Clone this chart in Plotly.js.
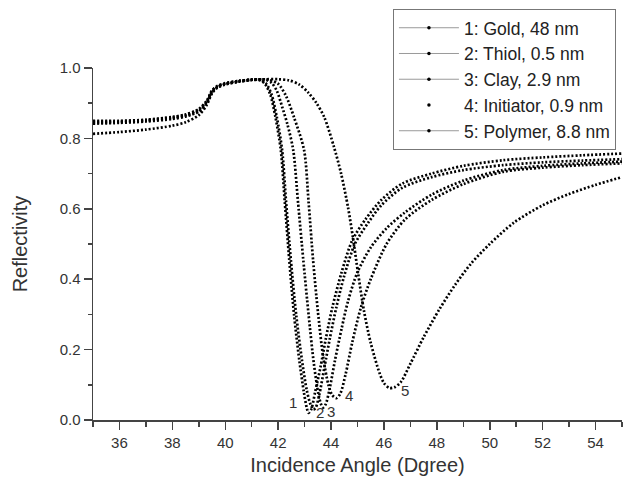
<!DOCTYPE html>
<html>
<head>
<meta charset="utf-8">
<script src="https://cdn.plot.ly/plotly-3.0.1.min.js"></script>
<style>html,body{margin:0;padding:0;background:#fff;}#chart{width:629px;height:479px;}</style>
</head>
<body>
<div id="chart"></div>
<script>
// ---- data ----
const seriesNames = ["1: Gold, 48 nm", "2: Thiol, 0.5 nm", "3: Clay, 2.9 nm", "4: Initiator, 0.9 nm", "5: Polymer, 8.8 nm"];

const x1 = [35, 36, 37, 38, 38.5, 39, 39.3, 39.5, 39.7, 40, 40.5, 41, 41.3, 41.5, 41.7, 41.9, 42.1, 42.25, 42.42, 42.6, 42.8, 42.97, 43.08, 43.15, 43.25, 43.4, 43.6, 43.8, 44.05, 44.4, 44.8, 45.3, 45.9, 46.7, 47.8, 49, 50.5, 52, 53.5, 55];
const y1 = [0.848, 0.848, 0.852, 0.860, 0.867, 0.882, 0.905, 0.935, 0.948, 0.956, 0.963, 0.967, 0.966, 0.955, 0.925, 0.86, 0.767, 0.62, 0.455, 0.30, 0.17, 0.08, 0.035, 0.02, 0.03, 0.08, 0.15, 0.23, 0.32, 0.42, 0.51, 0.57, 0.625, 0.672, 0.70, 0.722, 0.738, 0.746, 0.752, 0.757];

const x2 = [35, 36, 37, 38, 38.5, 39, 39.3, 39.5, 39.7, 40, 40.5, 41, 41.35, 41.55, 41.75, 41.95, 42.15, 42.3, 42.48, 42.68, 42.9, 43.08, 43.22, 43.33, 43.42, 43.55, 43.75, 43.95, 44.2, 44.5, 44.9, 45.4, 45.9, 46.7, 47.8, 49, 50.5, 52, 53.5, 55];
const y2 = [0.813, 0.818, 0.825, 0.836, 0.846, 0.866, 0.895, 0.928, 0.944, 0.953, 0.961, 0.966, 0.965, 0.955, 0.925, 0.86, 0.767, 0.62, 0.455, 0.30, 0.17, 0.085, 0.045, 0.03, 0.035, 0.07, 0.15, 0.23, 0.32, 0.41, 0.50, 0.56, 0.61, 0.66, 0.69, 0.71, 0.724, 0.732, 0.737, 0.741];

const x3 = [35, 36, 37, 38, 38.5, 39, 39.3, 39.5, 39.7, 40, 40.5, 41, 41.5, 41.75, 41.95, 42.15, 42.35, 42.57, 42.75, 42.95, 43.15, 43.35, 43.52, 43.62, 43.7, 43.8, 43.95, 44.15, 44.4, 44.65, 45.0, 45.5, 46.1, 46.8, 47.8, 49, 50.5, 52, 53.5, 55];
const y3 = [0.844, 0.846, 0.850, 0.857, 0.864, 0.878, 0.902, 0.932, 0.946, 0.955, 0.962, 0.967, 0.967, 0.958, 0.935, 0.89, 0.84, 0.767, 0.62, 0.455, 0.30, 0.16, 0.075, 0.045, 0.035, 0.045, 0.09, 0.17, 0.26, 0.34, 0.42, 0.49, 0.545, 0.59, 0.64, 0.68, 0.71, 0.722, 0.729, 0.734];

const x4 = [35, 36, 37, 38, 38.5, 39, 39.3, 39.5, 39.7, 40, 40.5, 41, 41.6, 42.0, 42.3, 42.6, 42.98, 43.15, 43.32, 43.5, 43.7, 43.9, 44.05, 44.2, 44.35, 44.55, 44.8, 45.13, 45.5, 46.1, 46.8, 47.8, 49, 50.5, 52, 53.5, 55];
const y4 = [0.842, 0.844, 0.848, 0.855, 0.862, 0.876, 0.900, 0.930, 0.945, 0.954, 0.961, 0.966, 0.967, 0.955, 0.92, 0.86, 0.767, 0.62, 0.455, 0.31, 0.18, 0.10, 0.07, 0.062, 0.075, 0.13, 0.22, 0.32, 0.40, 0.50, 0.57, 0.625, 0.67, 0.705, 0.717, 0.724, 0.729];

const x5 = [35, 36, 37, 38, 38.5, 39, 39.3, 39.5, 39.7, 40, 40.5, 41, 41.5, 42, 42.4, 42.8, 43.14, 43.45, 43.74, 44.11, 44.38, 44.64, 44.83, 45.02, 45.24, 45.5, 45.83, 46.0, 46.2, 46.4, 46.64, 47.0, 47.5, 48.1, 48.7, 49.3, 50.0, 50.9, 52.0, 53.0, 54.0, 55];
const y5 = [0.850, 0.850, 0.853, 0.861, 0.868, 0.883, 0.907, 0.936, 0.949, 0.957, 0.963, 0.967, 0.968, 0.968, 0.965, 0.953, 0.93, 0.90, 0.861, 0.776, 0.70, 0.605, 0.517, 0.418, 0.312, 0.219, 0.134, 0.105, 0.091, 0.093, 0.108, 0.16, 0.235, 0.315, 0.385, 0.445, 0.50, 0.56, 0.61, 0.642, 0.668, 0.69];

const labelText = ["1", "2", "3", "4", "5"];
const labelX = [42.57, 43.58, 44.0, 44.66, 46.8];
const labelY = [0.051, 0.02, 0.023, 0.071, 0.085];

// ---- build ----
const xs = [x1, x2, x3, x4, x5];
const ys = [y1, y2, y3, y4, y5];
const traces = [];
for (let i = 0; i < 5; i++) {
  traces.push({
    x: xs[i], y: ys[i], type: 'scatter', mode: 'lines',
    line: {color: '#000', width: 2.7, dash: '2px,2px', shape: 'spline', smoothing: 0.8},
    showlegend: false, hoverinfo: 'skip'
  });
}
for (let i = 0; i < 5; i++) {
  traces.push({
    x: [null], y: [null], type: 'scatter', name: seriesNames[i],
    mode: i === 3 ? 'markers' : 'lines+markers',
    line: {color: '#9a9a9a', width: 1},
    marker: {color: '#000', size: 3.5, symbol: 'circle'},
    showlegend: true
  });
}

const annotations = labelText.map((t, i) => ({
  x: labelX[i], y: labelY[i], xref: 'x', yref: 'y', text: t, showarrow: false,
  font: {family: 'Liberation Sans, Arial, sans-serif', size: 15, color: '#333'}
}));

const axisCommon = {
  showline: true, linecolor: '#444', linewidth: 1.5,
  ticks: 'outside', ticklen: 8, tickwidth: 1.5, tickcolor: '#444',
  showgrid: false, zeroline: false, mirror: false,
  tickfont: {family: 'Liberation Sans, Arial, sans-serif', size: 15, color: '#333'}
};

const layout = {
  width: 629, height: 479,
  margin: {l: 93, r: 7, t: 68, b: 59, autoexpand: false},
  paper_bgcolor: '#fff', plot_bgcolor: '#fff',
  font: {family: 'Liberation Sans, Arial, sans-serif', color: '#333'},
  xaxis: Object.assign({}, axisCommon, {
    range: [35, 55], dtick: 2, tick0: 36,
    minor: {dtick: 1, ticks: 'outside', ticklen: 5, tickwidth: 1.5, tickcolor: '#444', showgrid: false},
    title: {text: 'Incidence Angle (Dgree)', font: {size: 20, color: '#333'}, standoff: 8}
  }),
  yaxis: Object.assign({}, axisCommon, {
    range: [0, 1], dtick: 0.2, tick0: 0, tickformat: '.1f',
    minor: {dtick: 0.1, ticks: 'outside', ticklen: 4, tickwidth: 1.5, tickcolor: '#444', showgrid: false},
    title: {text: 'Reflectivity', font: {size: 20, color: '#333'}, standoff: 26}
  }),
  legend: {
    x: 0.567, y: 1.168, xanchor: 'left', yanchor: 'top',
    bgcolor: '#fff', bordercolor: '#777', borderwidth: 1,
    font: {family: 'Liberation Sans, Arial, sans-serif', size: 17.5, color: '#222'},
    itemwidth: 60, tracegroupgap: 0
  },
  annotations: annotations,
  showlegend: true
};

Plotly.newPlot('chart', traces, layout, {staticPlot: true, displayModeBar: false});
</script>
</body>
</html>
